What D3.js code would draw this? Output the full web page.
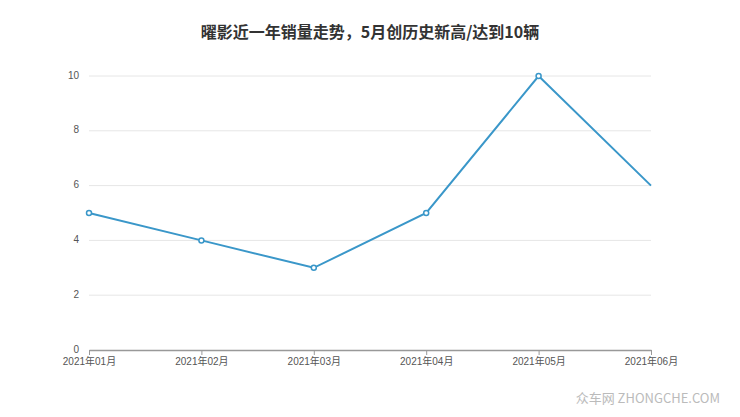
<!DOCTYPE html>
<html><head><meta charset="utf-8">
<script src="https://cdn.jsdelivr.net/npm/d3@7"></script>
<style>body{margin:0;background:#fff}text{font-family:"Noto Sans CJK SC","DejaVu Sans",sans-serif}.tk text{font-family:"Liberation Sans","Noto Sans CJK SC",sans-serif}</style>
</head><body><svg id="c" width="740" height="417"></svg>
<script>
const months = ['2021年01月','2021年02月','2021年03月','2021年04月','2021年05月','2021年06月'];
const sales = [5, 4, 3, 5, 10, 6];
const yTicks = [0, 2, 4, 6, 8, 10];

const svg = d3.select('#c');
const x = d3.scalePoint().domain(months).range([89, 651]);
const y = d3.scaleLinear().domain([0, 10]).range([350, 76]);

svg.append('text').attr('x', 370).attr('y', 38).attr('text-anchor', 'middle')
  .attr('font-size', 16).attr('font-weight', 'bold').attr('fill', '#333')
  .text('曜影近一年销量走势，5月创历史新高/达到10辆');

// grid
svg.append('g').selectAll('line').data(yTicks.slice(1)).join('line')
  .attr('x1', 89).attr('x2', 651).attr('y1', d => y(d)).attr('y2', d => y(d))
  .attr('stroke', '#e6e6e6');

const ya = svg.append('g').attr('class', 'tk').attr('transform', 'translate(89,0)')
  .call(d3.axisLeft(y).tickValues(yTicks).tickSize(0).tickPadding(10));
ya.select('.domain').remove();
ya.selectAll('text').attr('fill', '#555').attr('font-size', 10).attr('dy', '0.2em');

const xa = svg.append('g').attr('class', 'tk').attr('transform', 'translate(0,350)')
  .call(d3.axisBottom(x).tickSize(5).tickSizeOuter(0).tickPadding(3));
xa.select('.domain').attr('stroke', '#999').attr('stroke-width', 1.5);
xa.selectAll('line').attr('stroke', '#999');
xa.selectAll('text').attr('fill', '#555').attr('font-size', 10);

svg.append('path').datum(sales)
  .attr('d', d3.line().x((d, i) => x(months[i])).y(d => y(d)))
  .attr('fill', 'none').attr('stroke', '#3a97c9').attr('stroke-width', 2);

svg.append('g').selectAll('circle').data(sales.slice(0, 5)).join('circle')
  .attr('cx', (d, i) => x(months[i])).attr('cy', d => y(d)).attr('r', 2.5)
  .attr('fill', '#fff').attr('stroke', '#3a97c9').attr('stroke-width', 1.5);

svg.append('text').attr('x', 720).attr('y', 403).attr('text-anchor', 'end')
  .attr('font-size', 13).attr('fill', '#bbb').text('众车网 ZHONGCHE.COM');
</script></body></html>
